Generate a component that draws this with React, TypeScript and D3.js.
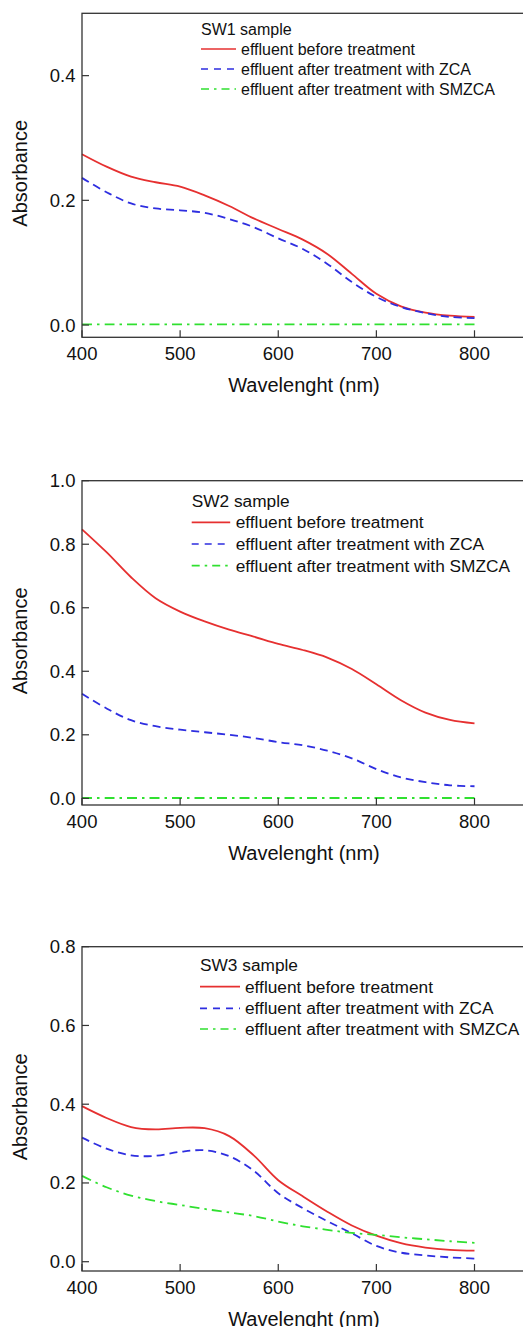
import React from "react";
import * as d3 from "d3";

const wavelengths = [400, 425, 450, 475, 500, 525, 550, 575, 600, 625, 650, 675, 700, 725, 750, 775, 800];

const sw1Before = [0.274, 0.254, 0.238, 0.229, 0.222, 0.208, 0.191, 0.171, 0.154, 0.137, 0.114, 0.082, 0.050, 0.030, 0.020, 0.015, 0.013];
const sw1ZCA = [0.236, 0.213, 0.195, 0.187, 0.184, 0.180, 0.170, 0.157, 0.139, 0.122, 0.098, 0.069, 0.045, 0.029, 0.019, 0.013, 0.011];
const sw1SMZCA = [0.001, 0.001, 0.001, 0.001, 0.001, 0.001, 0.001, 0.001, 0.001, 0.001, 0.001, 0.001, 0.001, 0.001, 0.001, 0.001, 0.001];

const sw2Before = [0.847, 0.775, 0.696, 0.630, 0.588, 0.557, 0.531, 0.509, 0.486, 0.467, 0.443, 0.407, 0.359, 0.309, 0.270, 0.247, 0.236];
const sw2ZCA = [0.329, 0.283, 0.246, 0.227, 0.216, 0.208, 0.200, 0.190, 0.177, 0.167, 0.150, 0.126, 0.092, 0.066, 0.051, 0.041, 0.038];
const sw2SMZCA = [0.001, 0.001, 0.001, 0.001, 0.001, 0.001, 0.001, 0.001, 0.001, 0.001, 0.001, 0.001, 0.001, 0.001, 0.001, 0.001, 0.001];

const sw3Before = [0.395, 0.365, 0.342, 0.336, 0.340, 0.339, 0.319, 0.270, 0.207, 0.166, 0.127, 0.092, 0.066, 0.047, 0.036, 0.030, 0.028];
const sw3ZCA = [0.315, 0.287, 0.270, 0.269, 0.279, 0.283, 0.268, 0.231, 0.174, 0.136, 0.103, 0.072, 0.040, 0.023, 0.016, 0.011, 0.008];
const sw3SMZCA = [0.218, 0.189, 0.168, 0.154, 0.144, 0.134, 0.125, 0.116, 0.102, 0.090, 0.081, 0.073, 0.068, 0.062, 0.057, 0.052, 0.048];

const xTicks = [400, 500, 600, 700, 800];
const sw1YTicks = [0.0, 0.2, 0.4];
const sw2YTicks = [0.0, 0.2, 0.4, 0.6, 0.8, 1.0];
const sw3YTicks = [0.0, 0.2, 0.4, 0.6, 0.8];

const seriesNames = [
  "effluent before treatment",
  "effluent after treatment with ZCA",
  "effluent after treatment with SMZCA",
];

const RED = "#e63030";
const BLUE = "#2e2ee0";
const GREEN = "#30e030";
const FONT = "'Liberation Sans', Arial, sans-serif";

const styles = [
  { color: RED, dash: "none", legendDash: "none" },
  { color: BLUE, dash: "8,5", legendDash: "7,6" },
  { color: GREEN, dash: "10,5,2.5,5", legendDash: "8,5,2.5,5" },
];

type PanelCfg = {
  title: string;
  top: number;
  bottom: number;
  yDomain: [number, number];
  yTicks: number[];
  series: number[][];
  legend: { x: number; titleY: number; rowY: number[]; lineW: number; gap: number; font: number };
};

const panels: PanelCfg[] = [
  {
    title: "SW1 sample",
    top: 13.3,
    bottom: 337.3,
    yDomain: [-0.0197, 0.5],
    yTicks: sw1YTicks,
    series: [sw1Before, sw1ZCA, sw1SMZCA],
    legend: { x: 201, titleY: 29, rowY: [49, 69, 89], lineW: 35, gap: 5, font: 16 },
  },
  {
    title: "SW2 sample",
    top: 480.7,
    bottom: 805,
    yDomain: [-0.021, 1.0],
    yTicks: sw2YTicks,
    series: [sw2Before, sw2ZCA, sw2SMZCA],
    legend: { x: 191.7, titleY: 501, rowY: [522.3, 544, 565.7], lineW: 38.5, gap: 5.5, font: 17.3 },
  },
  {
    title: "SW3 sample",
    top: 946.7,
    bottom: 1271,
    yDomain: [-0.0236, 0.8],
    yTicks: sw3YTicks,
    series: [sw3Before, sw3ZCA, sw3SMZCA],
    legend: { x: 200, titleY: 965, rowY: [986.7, 1008.3, 1029], lineW: 40, gap: 5, font: 17.3 },
  },
];

const LEFT = 82;
const PX_PER_NM = (474.5 - 82) / 400;
const RIGHT = 530;

function Panel({ cfg }: { cfg: PanelCfg }) {
  const x = d3.scaleLinear().domain([400, 400 + (RIGHT - LEFT) / PX_PER_NM]).range([LEFT, RIGHT]);
  const y = d3.scaleLinear().domain(cfg.yDomain).range([cfg.bottom, cfg.top]);
  const line = d3
    .line<number>()
    .x((_, i) => x(wavelengths[i]))
    .y((d) => y(d))
    .curve(d3.curveCatmullRom.alpha(0.5));
  const tick = 7;
  const lg = cfg.legend;
  return (
    <g>
      {cfg.series.map((s, i) => (
        <path
          key={i}
          d={line(s) || ""}
          fill="none"
          stroke={styles[i].color}
          strokeWidth={1.8}
          strokeDasharray={styles[i].dash}
        />
      ))}
      <rect
        x={LEFT}
        y={cfg.top}
        width={RIGHT - LEFT}
        height={cfg.bottom - cfg.top}
        fill="none"
        stroke="#333"
        strokeWidth={1.3}
      />
      {cfg.yTicks.map((t) => (
        <g key={"y" + t}>
          <line x1={LEFT} x2={LEFT + tick} y1={y(t)} y2={y(t)} stroke="#333" strokeWidth={1.2} />
          <text
            x={75.5}
            y={y(t)}
            textAnchor="end"
            dominantBaseline="central"
            fontFamily={FONT}
            fontSize={18.5}
            fill="#111"
          >
            {t.toFixed(1)}
          </text>
        </g>
      ))}
      {xTicks.map((t) => (
        <g key={"x" + t}>
          <line x1={x(t)} x2={x(t)} y1={cfg.bottom} y2={cfg.bottom - tick} stroke="#333" strokeWidth={1.2} />
          <text
            x={x(t)}
            y={cfg.bottom + 16.5}
            textAnchor="middle"
            dominantBaseline="central"
            fontFamily={FONT}
            fontSize={18.5}
            fill="#111"
          >
            {t}
          </text>
        </g>
      ))}
      <text
        x={304}
        y={cfg.bottom + 47.5}
        textAnchor="middle"
        dominantBaseline="central"
        fontFamily={FONT}
        fontSize={20}
        fill="#111"
      >
        Wavelenght (nm)
      </text>
      <text
        transform={`translate(19.5, ${(cfg.top + cfg.bottom) / 2 - 2}) rotate(-90)`}
        textAnchor="middle"
        dominantBaseline="central"
        fontFamily={FONT}
        fontSize={20}
        fill="#111"
      >
        Absorbance
      </text>
      <text x={lg.x} y={lg.titleY} dominantBaseline="central" fontFamily={FONT} fontSize={lg.font} fill="#111">
        {cfg.title}
      </text>
      {seriesNames.map((n, i) => (
        <g key={n}>
          <line
            x1={lg.x}
            x2={lg.x + lg.lineW}
            y1={lg.rowY[i]}
            y2={lg.rowY[i]}
            stroke={styles[i].color}
            strokeWidth={1.7}
            strokeDasharray={styles[i].legendDash}
          />
          <text
            x={lg.x + lg.lineW + lg.gap}
            y={lg.rowY[i]}
            dominantBaseline="central"
            fontFamily={FONT}
            fontSize={lg.font}
            fill="#111"
          >
            {n}
          </text>
        </g>
      ))}
    </g>
  );
}

export default function App() {
  return (
    <svg
      width={523}
      height={1327}
      style={{ position: "absolute", left: 0, top: 0, background: "#fff" }}
    >
      {panels.map((p) => (
        <Panel key={p.title} cfg={p} />
      ))}
    </svg>
  );
}
